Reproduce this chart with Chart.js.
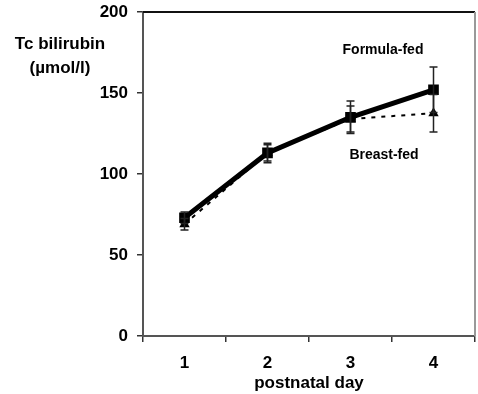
<!DOCTYPE html>
<html>
<head>
<meta charset="utf-8">
<script src="https://cdn.jsdelivr.net/npm/chart.js@4.4.0/dist/chart.umd.min.js"></script>
<style>
  html, body { margin: 0; padding: 0; background: #fff; }
</style>
</head>
<body>
<canvas id="mycanvas" width="478" height="394"></canvas>
<script>
var days = ['1', '2', '3', '4'];
var formulaFed = [73, 113, 135, 152];
var formulaErr = [3.5, 6, 10, 14];
var breastFed = [69, 113, 134, 137.5];
var breastErr = [3.5, 5, 8, 11.5];
var yTicks = [0, 50, 100, 150, 200];

var FONT = '"Liberation Sans", Arial, sans-serif';

// error bars + text labels
var extras = {
  id: 'extras',
  afterDatasetsDraw: function(chart) {
    var ctx = chart.ctx;
    var x = chart.scales.x, y = chart.scales.y;
    var area = chart.chartArea;

    function bars(vals, errs) {
      for (var i = 0; i < vals.length; i++) {
        var px = x.getPixelForValue(i);
        var top = y.getPixelForValue(vals[i] + errs[i]);
        var bot = y.getPixelForValue(vals[i] - errs[i]);
        ctx.beginPath();
        ctx.moveTo(px, top); ctx.lineTo(px, bot);
        ctx.moveTo(px - 4, top); ctx.lineTo(px + 4, top);
        ctx.moveTo(px - 4, bot); ctx.lineTo(px + 4, bot);
        ctx.stroke();
      }
    }
    ctx.save();
    ctx.strokeStyle = '#222';
    ctx.lineWidth = 1.5;
    bars(breastFed, breastErr);
    bars(formulaFed, formulaErr);

    // frame top and right
    ctx.lineWidth = 2;
    ctx.strokeStyle = '#111';
    ctx.beginPath();
    ctx.moveTo(area.left, area.top); ctx.lineTo(area.right, area.top);
    ctx.stroke();
    ctx.strokeStyle = '#999';
    ctx.beginPath();
    ctx.moveTo(area.right, area.top); ctx.lineTo(area.right, area.bottom);
    ctx.stroke();

    ctx.fillStyle = '#000';
    ctx.textAlign = 'center';
    ctx.textBaseline = 'middle';
    ctx.font = 'bold 14px ' + FONT;
    ctx.fillText('Formula-fed', 383, 50);
    ctx.fillText('Breast-fed', 384, 155);

    ctx.font = 'bold 17px ' + FONT;
    ctx.fillText('Tc bilirubin', 60, 44);
    ctx.fillText('(\u00b5mol/l)', 60, 68);
    ctx.restore();
  }
};

var chartdata = {
  labels: days,
  datasets: [
    {
      label: 'Formula-fed',
      data: formulaFed,
      borderColor: '#000',
      backgroundColor: '#000',
      borderWidth: 5,
      pointStyle: 'rect',
      pointRadius: 4,
      order: 0
    },
    {
      label: 'Breast-fed',
      data: breastFed,
      borderColor: '#000',
      backgroundColor: '#000',
      borderWidth: 2,
      borderDash: [4, 6],
      pointStyle: 'triangle',
      pointRadius: 4,
      order: 1
    }
  ]
};

var lineGraph = new Chart(document.getElementById('mycanvas'), {
  type: 'line',
  data: chartdata,
  plugins: [extras],
  options: {
    responsive: false,
    animation: false,
    layout: { autoPadding: false, padding: { top: 12, right: 3, left: 0, bottom: 0 } },
    plugins: { legend: { display: false }, tooltip: { enabled: false } },
    scales: {
      x: {
        offset: true,
        grid: { offset: true, drawOnChartArea: false, tickLength: 6, color: '#333', lineWidth: 1.5 },
        border: { color: '#555', width: 2 },
        ticks: { color: '#000', font: { family: FONT, size: 17, weight: 'bold' }, padding: 11 },
        title: { display: true, text: 'postnatal day', color: '#000', font: { family: FONT, size: 17, weight: 'bold' }, padding: { top: 0, bottom: 0 } },
        afterFit: function(s) { s.height = 58; s.paddingLeft = 0; s.paddingRight = 0; }
      },
      y: {
        min: 0,
        max: 200,
        afterBuildTicks: function(s) { s.ticks = yTicks.map(function(v) { return { value: v }; }); },
        grid: { drawOnChartArea: false, tickLength: 6, color: '#333', lineWidth: 1.5 },
        border: { color: '#555', width: 2 },
        ticks: { color: '#000', font: { family: FONT, size: 17, weight: 'bold' }, padding: 9 },
        afterFit: function(s) { s.width = 143; s.paddingTop = 0; s.paddingBottom = 0; }
      }
    }
  }
});
</script>
</body>
</html>
